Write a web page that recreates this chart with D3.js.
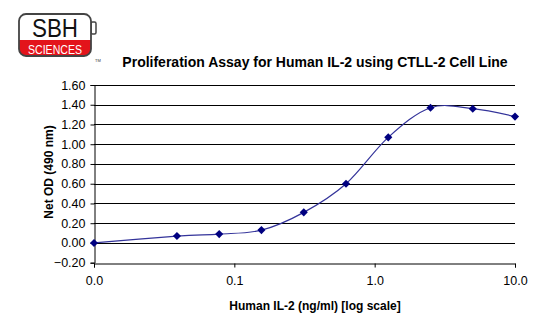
<!DOCTYPE html>
<html>
<head>
<meta charset="utf-8">
<script src="https://cdn.jsdelivr.net/npm/d3@7"></script>
<style>
  html, body { margin: 0; padding: 0; background: #fff; }
  svg { display: block; font-family: "Liberation Sans", Arial, sans-serif; }
</style>
</head>
<body>
<svg id="chart" width="560" height="325"></svg>
<script>
// IL-2 concentration (ng/ml), two-fold dilution series
const concentrations = [0.01, 0.039, 0.078, 0.156, 0.3125, 0.625, 1.25, 2.5, 5, 10];
// Net OD at 490 nm
const netOD = [0.00, 0.07, 0.09, 0.13, 0.31, 0.60, 1.07, 1.37, 1.36, 1.28];
const xTickValues = [0.01, 0.1, 1, 10];
const xTickLabels = ["0.0", "0.1", "1.0", "10.0"];
const yTickValues = [-0.2, 0, 0.2, 0.4, 0.6, 0.8, 1.0, 1.2, 1.4, 1.6];

const title = "Proliferation Assay for Human IL-2 using CTLL-2 Cell Line";
const xTitle = "Human IL-2 (ng/ml) [log scale]";
const yTitle = "Net OD (490 nm)";

const svg = d3.select("#chart");
const plotLeft = 94, plotRight = 515, plotTop = 85, plotBottom = 262.7;

const x = d3.scaleLog().domain([0.01, 10]).range([plotLeft, plotRight]);
const y = d3.scaleLinear().domain([-0.2, 1.6]).range([plotBottom, plotTop]);

// Horizontal gridlines
svg.append("g")
  .selectAll("line")
  .data(yTickValues.filter(v => v > -0.2))
  .join("line")
  .attr("x1", plotLeft).attr("x2", plotRight)
  .attr("y1", d => Math.round(y(d)) + 0.5)
  .attr("y2", d => Math.round(y(d)) + 0.5)
  .attr("stroke", "#000").attr("stroke-width", 1);

// Y axis
const yAxis = svg.append("g")
  .attr("transform", `translate(${plotLeft + 0.5},0)`)
  .call(d3.axisLeft(y).tickValues(yTickValues).tickFormat(d3.format(".2f")).tickSize(4).tickPadding(5));
yAxis.select(".domain").attr("stroke", "#000");
yAxis.selectAll(".tick line").attr("stroke", "#000");
yAxis.selectAll(".tick text")
  .attr("font-size", 12.5).attr("fill", "#000")
  .attr("font-family", "Liberation Sans, Arial, sans-serif");

// X axis (log)
const xAxis = svg.append("g")
  .attr("transform", `translate(0,${Math.round(plotBottom) + 0.5})`)
  .call(d3.axisBottom(x).tickValues(xTickValues)
    .tickFormat((d, i) => xTickLabels[i]).tickSize(4).tickPadding(9));
xAxis.select(".domain").attr("stroke", "#000");
xAxis.selectAll(".tick line").attr("stroke", "#000");
xAxis.selectAll(".tick text")
  .attr("font-size", 12.5).attr("fill", "#000")
  .attr("font-family", "Liberation Sans, Arial, sans-serif");

// Smoothed data line
const line = d3.line()
  .x((d, i) => x(concentrations[i]))
  .y(d => y(d))
  .curve(d3.curveCatmullRom.alpha(0));
svg.append("path")
  .datum(netOD)
  .attr("d", line)
  .attr("fill", "none")
  .attr("stroke", "#33339a")
  .attr("stroke-width", 1.2);

// Diamond markers
const diamond = d3.symbol().type(d3.symbolDiamond2).size(42);
svg.append("g")
  .selectAll("path")
  .data(netOD)
  .join("path")
  .attr("transform", (d, i) => `translate(${x(concentrations[i])},${y(d)})`)
  .attr("d", diamond)
  .attr("fill", "#000080");

// Titles
svg.append("text")
  .attr("x", 315).attr("y", 67)
  .attr("text-anchor", "middle")
  .attr("font-size", 14).attr("font-weight", "bold")
  .text(title);

svg.append("text")
  .attr("x", 315).attr("y", 310)
  .attr("text-anchor", "middle")
  .attr("font-size", 12).attr("font-weight", "bold")
  .text(xTitle);

svg.append("text")
  .attr("transform", "translate(52.5,172) rotate(-90)")
  .attr("text-anchor", "middle")
  .attr("font-size", 12).attr("font-weight", "bold")
  .text(yTitle);

// Logo: rounded badge with a small tab on the right
const logo = svg.append("g");
logo.append("rect")
  .attr("x", 91).attr("y", 22).attr("width", 5).attr("height", 12)
  .attr("rx", 1.5).attr("fill", "#fff").attr("stroke", "#444").attr("stroke-width", 1.5);
logo.append("clipPath").attr("id", "logoClip")
  .append("rect").attr("x", 19).attr("y", 14).attr("width", 72).attr("height", 42).attr("rx", 7);
logo.append("rect")
  .attr("x", 19).attr("y", 14).attr("width", 72).attr("height", 42).attr("rx", 7)
  .attr("fill", "#fff");
logo.append("rect")
  .attr("x", 19).attr("y", 40).attr("width", 72).attr("height", 16)
  .attr("fill", "#e3141b").attr("clip-path", "url(#logoClip)");
logo.append("rect")
  .attr("x", 19).attr("y", 14).attr("width", 72).attr("height", 42).attr("rx", 7)
  .attr("fill", "none").attr("stroke", "#444").attr("stroke-width", 1.8);
logo.append("text")
  .attr("x", 55).attr("y", 36.5)
  .attr("text-anchor", "middle")
  .attr("font-family", "Liberation Sans Narrow, Liberation Sans, Arial, sans-serif")
  .attr("font-size", 26)
  .attr("textLength", 46).attr("lengthAdjust", "spacingAndGlyphs")
  .attr("fill", "#111")
  .text("SBH");
logo.append("text")
  .attr("x", 55).attr("y", 54.2)
  .attr("text-anchor", "middle")
  .attr("font-family", "Liberation Sans Narrow, Liberation Sans, Arial, sans-serif")
  .attr("font-size", 13.2)
  .attr("textLength", 54).attr("lengthAdjust", "spacingAndGlyphs")
  .attr("fill", "#fff")
  .text("SCIENCES");
logo.append("text")
  .attr("x", 95).attr("y", 61.5)
  .attr("font-size", 4).attr("fill", "#333")
  .text("TM");
</script>
</body>
</html>
